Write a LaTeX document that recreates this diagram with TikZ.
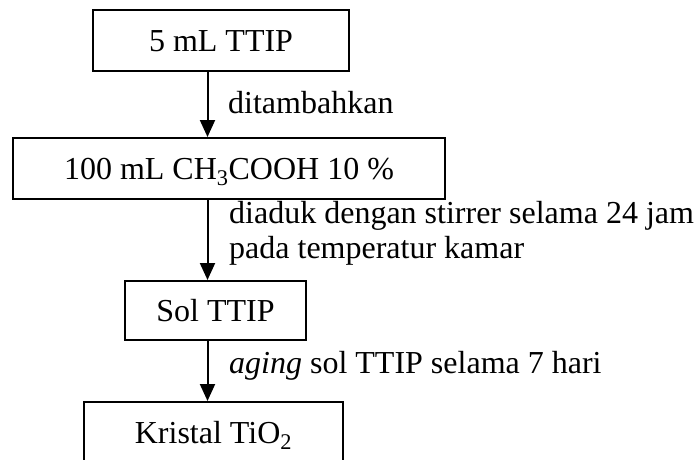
\documentclass[tikz,border=0pt]{standalone}
\usepackage{fontspec}
\setmainfont{Liberation Serif}
\usetikzlibrary{arrows.meta}
\begin{document}
\begin{tikzpicture}[x=1pt,y=-1pt,
  box/.style={draw, line width=2pt, inner sep=0pt, text height=21.5pt, text depth=0pt,
              font=\fontsize{32}{36}\selectfont},
  lbl/.style={anchor=base west, inner sep=0pt, font=\fontsize{32}{36}\selectfont},
  arr/.style={line width=2pt, -{Triangle[length=17pt,width=15pt]}}]
\useasboundingbox[fill=white] (0,0) rectangle (698,459);
\node[box, minimum width=256pt, minimum height=61pt] (b1) at (221,40.5) {5 mL TTIP};
\node[box, minimum width=432pt, minimum height=61pt] (b2) at (229,168.5) {100 mL CH\textsubscript{3}COOH 10 \%};
\node[box, minimum width=181pt, minimum height=59pt] (b3) at (215.5,310.5) {Sol TTIP};
\node[box, minimum width=259pt, minimum height=61pt] (b4) at (213.5,432.5) {Kristal TiO\textsubscript{2}};
\coordinate (ax) at (207.5,0);
\draw[arr] (b1.south -| ax) -- (b2.north -| ax);
\draw[arr] (b2.south -| ax) -- (b3.north -| ax);
\draw[arr] (b3.south -| ax) -- (b4.north -| ax);
\node[lbl] (t1) at (228,113) {ditambahkan};
\node[lbl] (t2) at (229,223) {diaduk dengan stirrer selama 24 jam};
\node[lbl] (t3) at (229,258) {pada temperatur kamar};
\node[lbl] (t4) at (229,373) {\textit{aging} sol TTIP selama 7 hari};
\end{tikzpicture}
\end{document}
